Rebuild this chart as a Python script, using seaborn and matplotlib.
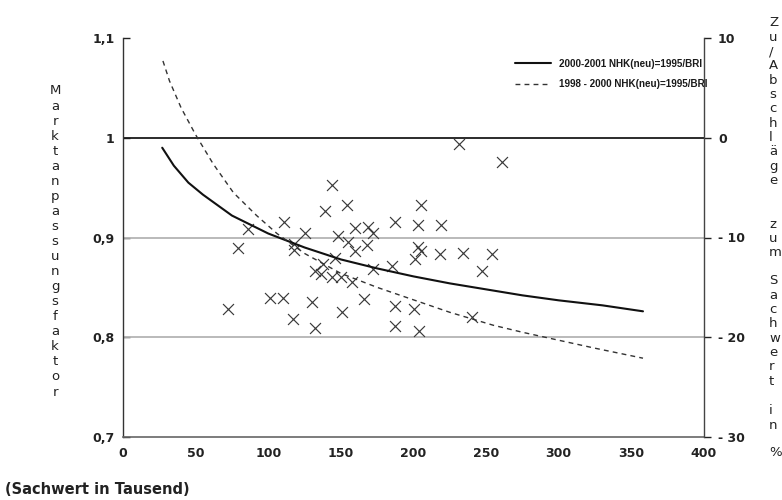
import matplotlib
matplotlib.use("Agg")
import matplotlib.pyplot as plt
import seaborn as sns
import pandas as pd

# ---------------- data ----------------
sachwert = [72, 79, 86, 101, 110, 111, 117, 118, 118, 125, 130, 132, 132, 136, 138,
            139, 144, 144, 146, 148, 150, 151, 154, 155, 158, 160, 160, 166, 168, 169,
            172, 172, 185, 187, 187, 187, 200, 201, 203, 203, 205, 205, 204, 218, 219,
            231, 234, 240, 247, 254, 261]
faktor = [0.828, 0.889, 0.909, 0.839, 0.839, 0.916, 0.818, 0.893, 0.887, 0.905, 0.835,
          0.809, 0.866, 0.863, 0.873, 0.927, 0.953, 0.860, 0.879, 0.902, 0.860, 0.825,
          0.933, 0.895, 0.855, 0.910, 0.886, 0.838, 0.892, 0.911, 0.905, 0.868, 0.871,
          0.916, 0.831, 0.811, 0.828, 0.878, 0.913, 0.890, 0.886, 0.933, 0.806, 0.883,
          0.913, 0.994, 0.884, 0.820, 0.866, 0.883, 0.976]

fit1_x = [27, 35, 45, 55, 75, 100, 125, 150, 175, 200, 225, 250, 275, 300, 330, 358]
fit1_y = [0.990, 0.972, 0.955, 0.943, 0.922, 0.904, 0.890, 0.878, 0.869, 0.861, 0.854,
          0.848, 0.842, 0.837, 0.832, 0.826]

fit2_x = [27.5, 32, 40, 50, 62, 76, 92, 106, 125, 150, 175, 205, 225, 255, 275, 300, 325, 358]
fit2_y = [1.077, 1.057, 1.030, 1.003, 0.974, 0.945, 0.922, 0.904, 0.884, 0.864, 0.850,
          0.835, 0.825, 0.812, 0.805, 0.797, 0.789, 0.779]

legend_labels = ["2000-2001 NHK(neu)=1995/BRI", "1998 - 2000 NHK(neu)=1995/BRI"]

x_ticks = [0, 50, 100, 150, 200, 250, 300, 350, 400]
y_ticks = [0.7, 0.8, 0.9, 1.0, 1.1]
y_tick_labels = ["0,7", "0,8", "0,9", "1", "1,1"]
pct_ticks = [-30, -20, -10, 0, 10]
pct_tick_labels = ["- 30", "- 20", "- 10", "0", "10"]
ref_lines = [0.8, 0.9, 1.0]
ref_colors = ["#b4b4b4", "#b4b4b4", "#1a1a1a"]

ylabel_text = "Marktanpassungsfaktor"
right_words = ["Zu/Abschläge", "zum", "Sachwert", "in", "%"]
xlabel_text = "(Sachwert in Tausend)"

# ---------------- drawing ----------------
sns.set_style("white")
plt.rcParams['font.family'] = ['DejaVu Sans']

W, H = 782, 500
fig = plt.figure(figsize=(W / 100, H / 100), dpi=100)
ax = fig.add_axes([123 / W, 63 / H, 581 / W, 399 / H])

for v, c in zip(ref_lines, ref_colors):
    ax.axhline(v, color=c, lw=1.3, zorder=1)

pts = pd.DataFrame({"sachwert": sachwert, "faktor": faktor})
sns.scatterplot(data=pts, x="sachwert", y="faktor", marker="x", s=62,
                color="#3a3a3a", linewidth=0.85, ax=ax, zorder=3, legend=False)

f1 = pd.DataFrame({"x": fit1_x, "y": fit1_y})
f2 = pd.DataFrame({"x": fit2_x, "y": fit2_y})
sns.lineplot(data=f1, x="x", y="y", sort=False, estimator=None, color="#111111",
             lw=1.5, ax=ax, label=legend_labels[0], zorder=4)
sns.lineplot(data=f2, x="x", y="y", sort=False, estimator=None, color="#333333",
             lw=1.0, ax=ax, label=legend_labels[1], zorder=4, dashes=False)
ax.lines[-1].set_linestyle((0, (3.5, 3)))

ax.set_xlim(0, 400)
ax.set_ylim(0.7, 1.1)
ax.set_xticks(x_ticks)
ax.set_yticks(y_ticks)
ax.set_yticklabels(y_tick_labels)
ax.set_xlabel("")
ax.set_ylabel("")

ax.tick_params(axis="x", direction="in", length=5, width=1, pad=7,
               labelsize=9, colors="#222222")
ax.tick_params(axis="y", direction="in", length=5, width=1, pad=6,
               labelsize=9, colors="#222222")
for lbl in ax.get_xticklabels() + ax.get_yticklabels():
    lbl.set_fontweight("bold")

ax.spines["top"].set_visible(False)
ax.spines["left"].set_color("#333333")
ax.spines["left"].set_linewidth(1.0)
ax.spines["bottom"].set_color("#666666")
ax.spines["bottom"].set_linewidth(1.2)
ax.spines["right"].set_visible(False)

ax2 = ax.twinx()
ax2.set_ylim(-30, 10)
ax2.set_yticks(pct_ticks)
ax2.set_yticklabels(pct_tick_labels)
ax2.tick_params(axis="y", direction="out", length=5, width=1, pad=5,
                labelsize=9, colors="#222222")
for lbl in ax2.get_yticklabels():
    lbl.set_fontweight("bold")
for s in ["top", "left", "bottom"]:
    ax2.spines[s].set_visible(False)
ax2.spines["right"].set_color("#444444")
ax2.spines["right"].set_linewidth(1.0)

leg = ax.legend(loc="upper right", bbox_to_anchor=(1.021, 0.97), frameon=False,
                handlelength=3.6, handletextpad=0.8, labelspacing=1.05,
                prop=dict(family="Liberation Sans", weight="bold", size=7.1))
for t in leg.get_texts():
    t.set_color("#1a1a1a")

# vertical y label, one letter per line
for i, ch in enumerate(ylabel_text):
    fig.text(55 / W, 1 - (91 + i * 15.05) / H, ch, ha="center", va="center",
             fontsize=9.5, color="#222222")

# right column text, one letter per line
step = 14.3
word_top = [23, 224, 281, 411, 453]
for w, y0 in zip(right_words, word_top):
    for k, ch in enumerate(w):
        fig.text(769 / W, 1 - (y0 + k * step) / H, ch, ha="left", va="center",
                 fontsize=9.5, color="#222222")

fig.text(5 / W, 1 - 490 / H, xlabel_text, ha="left", va="center",
         fontsize=10.5, fontweight="bold", color="#222222")

fig.savefig("out.png", dpi=100)
